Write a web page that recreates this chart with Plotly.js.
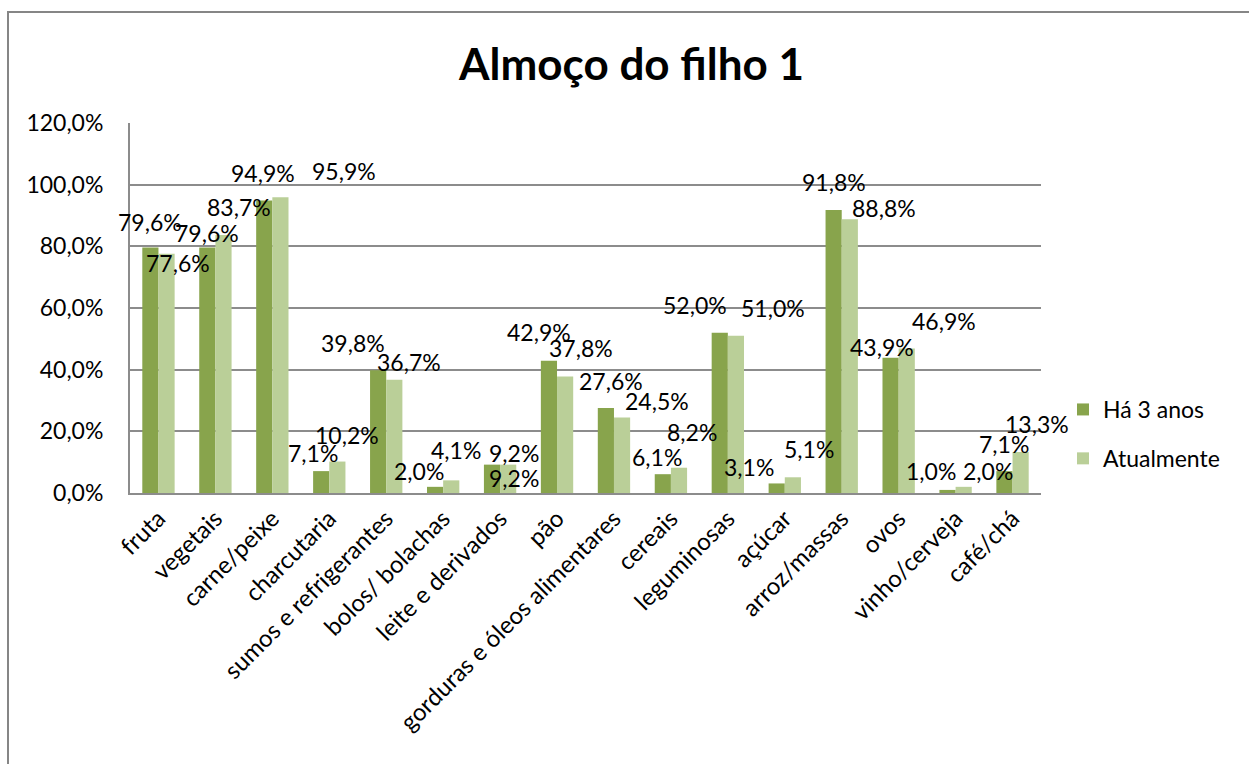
<!DOCTYPE html>
<html>
<head>
<meta charset="utf-8">
<script src="https://cdn.plot.ly/plotly-3.0.1.min.js"></script>
<style>
  html, body { margin: 0; padding: 0; background: #ffffff; }
  #frame { position: absolute; left: 7px; top: 11px; width: 1300px; height: 900px;
           border-left: 2px solid #868686; border-top: 2px solid #868686; }
  #chart { position: absolute; left: 0; top: 0; width: 1249px; height: 764px; }
</style>
</head>
<body>
<div id="frame"></div>
<div id="chart"></div>
<script>
// ---- data ----
const categories = [
  "fruta", "vegetais", "carne/peixe", "charcutaria", "sumos e refrigerantes",
  "bolos/ bolachas", "leite e derivados", "pão", "gorduras e óleos alimentares",
  "cereais", "leguminosas", "açúcar", "arroz/massas", "ovos", "vinho/cerveja", "café/chá"
];
const seriesNames = ["Há 3 anos", "Atualmente"];
const ha3anos    = [79.6, 79.6, 94.9, 7.1, 39.8, 2.0, 9.2, 42.9, 27.6, 6.1, 52.0, 3.1, 91.8, 43.9, 1.0, 7.1];
const atualmente = [77.6, 83.7, 95.9, 10.2, 36.7, 4.1, 9.2, 37.8, 24.5, 8.2, 51.0, 5.1, 88.8, 46.9, 2.0, 13.3];
const yTicks = [0, 20, 40, 60, 80, 100, 120];

// ---- label placement nudges (px, [right, up] relative to bar top centre) ----
const nudgeDark = [[0,26],[0,15],[-1,27],[-8,18],[-25,27],[-16,16],[22,12],[-10,29],
                   [5,27],[-6,17],[-25,28],[-28,16],[0,28],[-9,11],[-16,19],[0,27]];
const nudgeLight = [[11,-9],[15,28],[64,26],[10,27],[15,18],[5,30],[6,-13],[16,28],
                    [35,16],[13,36],[37,28],[16,28],[34,11],[37,27],[24,16],[16,28]];

const darkColor = "#88A44C";
const lightColor = "#BACF98";
const gridColor = "#8C8C8C";
const fontFam = "Lato, 'Open Sans', sans-serif";

const fmt = v => v.toFixed(1).replace(".", ",") + "%";

const traces = [
  { type: "bar", name: seriesNames[0], x: categories, y: ha3anos,
    marker: { color: darkColor }, legendgroup: "a", hoverinfo: "x+y" },
  { type: "bar", name: seriesNames[1], x: categories, y: atualmente,
    marker: { color: lightColor }, legendgroup: "b", hoverinfo: "x+y" }
];

const halfBar = 8.1;
const annotations = [];
[ha3anos, atualmente].forEach((vals, s) => {
  const nudges = s === 0 ? nudgeDark : nudgeLight;
  vals.forEach((v, j) => {
    annotations.push({
      x: categories[j], y: v, xref: "x", yref: "y",
      text: fmt(v), showarrow: false,
      xanchor: "center", yanchor: "middle",
      xshift: (s === 0 ? -halfBar : halfBar) + nudges[j][0],
      yshift: nudges[j][1],
      font: { family: fontFam, size: 23, color: "#000000" }
    });
  });
});

const layout = {
  width: 1249, height: 764,
  paper_bgcolor: "rgba(0,0,0,0)", plot_bgcolor: "rgba(0,0,0,0)",
  margin: { l: 130, r: 208, t: 123, b: 271, autoexpand: false },
  separators: ",.",
  font: { family: fontFam, size: 23, color: "#000000" },
  title: {
    text: "<b>Almoço do filho 1</b>",
    font: { family: fontFam, size: 44, color: "#000000" },
    xref: "container", yref: "container",
    x: 0.5056, xanchor: "center", y: 0.916, yanchor: "middle"
  },
  barmode: "group", bargap: 0.432, bargroupgap: 0,
  xaxis: {
    type: "category",
    range: [-0.5, categories.length - 0.5],
    tickangle: -45,
    tickfont: { family: fontFam, size: 24, color: "#000000" },
    showline: true, linecolor: gridColor, linewidth: 2,
    showgrid: false, ticks: "", ticklabelstandoff: 0,
    automargin: false, fixedrange: true
  },
  yaxis: {
    range: [0, 120], tickvals: yTicks, ticktext: yTicks.map(fmt),
    tickfont: { family: fontFam, size: 23, color: "#000000" },
    showline: true, linecolor: gridColor, linewidth: 2,
    showgrid: true, gridcolor: gridColor, gridwidth: 2,
    zeroline: false, ticks: "", ticklabelstandoff: 20,
    automargin: false, fixedrange: true
  },
  legend: {
    xref: "container", yref: "container",
    x: 1063 / 1249, xanchor: "left",
    y: 1 - 388 / 764, yanchor: "top",
    font: { family: fontFam, size: 23, color: "#000000" },
    traceorder: "grouped", tracegroupgap: 16,
    bgcolor: "rgba(0,0,0,0)"
  },
  showlegend: true,
  annotations: annotations
};

Plotly.newPlot("chart", traces, layout, { displayModeBar: false, staticPlot: true });
</script>
</body>
</html>
